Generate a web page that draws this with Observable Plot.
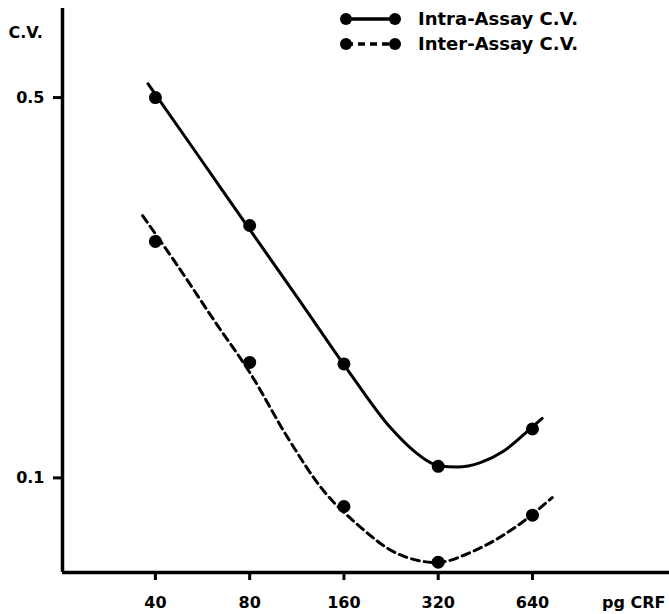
<!DOCTYPE html>
<html><head><meta charset="utf-8">
<script src="https://cdn.jsdelivr.net/npm/d3@7"></script>
<script src="https://cdn.jsdelivr.net/npm/@observablehq/plot@0.6"></script>
<style>
body{margin:0;background:#fff;}
#wrap{position:relative;width:669px;height:614px;font-family:"DejaVu Sans",sans-serif;font-weight:bold;color:#000;}
#legend{position:absolute;left:336px;top:6px;}
.lg{display:flex;align-items:center;height:25px;font-size:18px;}
.lg svg{margin-right:16px;}
</style></head><body><div id="wrap"></div>
<script>
// ---- data ----
const doses = [40, 80, 160, 320, 640];
const intraCV = [0.50, 0.291, 0.162, 0.105, 0.123];
const interCV = [0.272, 0.163, 0.0886, 0.070, 0.0854];
// fitted curves as drawn in the figure
const intraCurveX = [37.9, 55.7, 80.4, 116.2, 167.8, 225.2, 267.4, 323, 368, 436.5, 518.3, 630.7, 687.3];
const intraCurveY = [0.530, 0.386, 0.285, 0.2106, 0.1553, 0.1237, 0.1121, 0.1052, 0.1047, 0.1067, 0.1121, 0.1232, 0.1286];
const interCurveX = [36.4, 46.3, 62.2, 80.4, 105.4, 137.9, 176.3, 236.6, 315.9, 415.6, 572, 740];
const interCurveY = [0.3033, 0.2489, 0.1931, 0.1556, 0.1190, 0.0946, 0.0822, 0.0726, 0.0699, 0.0734, 0.0816, 0.0920];
const xTicks = [40, 80, 160, 320, 640];
const yTicks = [0.5, 0.1];
const seriesNames = ["Intra-Assay C.V.", "Inter-Assay C.V."];
const xTitle = "pg CRF";
const yTitle = "C.V.";
const xDomain = [20.2, 1753];
const yDomain = [0.067, 0.729];

const pts = doses.flatMap((d, i) => [
  {x: d, y: intraCV[i], s: seriesNames[0]},
  {x: d, y: interCV[i], s: seriesNames[1]}
]);
const intraCurve = intraCurveX.map((x, i) => ({x, y: intraCurveY[i]}));
const interCurve = interCurveX.map((x, i) => ({x, y: interCurveY[i]}));

const font = {fontFamily: "DejaVu Sans", fontWeight: "bold", fontSize: 16};

const chart = Plot.plot({
  width: 669, height: 614,
  marginLeft: 62, marginRight: 0, marginTop: 8, marginBottom: 42,
  style: {background: "#fff", color: "#000", fontFamily: "DejaVu Sans"},
  x: {type: "log", base: 2, domain: xDomain},
  y: {type: "log", domain: yDomain},
  marks: [
    Plot.axisX(xTicks, {tickSize: 8, tickPadding: 16, strokeWidth: 3, tickFormat: d => String(d), label: null, ...font}),
    Plot.axisY(yTicks, {tickSize: 9, tickPadding: 9, strokeWidth: 3, tickFormat: d => String(d), label: null, ...font}),
    Plot.ruleX([xDomain[0]], {stroke: "#000", strokeWidth: 3.5}),
    Plot.ruleY([yDomain[0]], {stroke: "#000", strokeWidth: 3.5}),
    Plot.line(intraCurve, {x: "x", y: "y", curve: "monotone-x", stroke: "#000", strokeWidth: 3}),
    Plot.line(interCurve, {x: "x", y: "y", curve: "monotone-x", stroke: "#000", strokeWidth: 3, strokeDasharray: "8,5"}),
    Plot.dot(pts, {x: "x", y: "y", r: 6.5, fill: "#000", stroke: "none"}),
    Plot.text([yTitle], {frameAnchor: "top-left", textAnchor: "start", dx: -54, dy: 18, ...font}),
    Plot.text([xTitle], {frameAnchor: "bottom-right", textAnchor: "end", dx: -4, dy: 35, ...font})
  ]
});
const wrap = document.getElementById("wrap");
wrap.appendChild(chart);

// legend
const leg = document.createElement("div");
leg.id = "legend";
seriesNames.forEach((name, i) => {
  const row = document.createElement("div");
  row.className = "lg";
  const svg = d3.create("svg").attr("width", 66).attr("height", 16);
  svg.append("line").attr("x1", 10).attr("x2", 59).attr("y1", 8).attr("y2", 8)
    .attr("stroke", "#000").attr("stroke-width", 3.5)
    .attr("stroke-dasharray", i === 0 ? null : "7,5");
  svg.append("circle").attr("cx", 10).attr("cy", 8).attr("r", 6).attr("fill", "#000");
  svg.append("circle").attr("cx", 59).attr("cy", 8).attr("r", 6).attr("fill", "#000");
  row.appendChild(svg.node());
  const t = document.createElement("span");
  t.textContent = name;
  row.appendChild(t);
  leg.appendChild(row);
});
wrap.appendChild(leg);
</script>
</body></html>
